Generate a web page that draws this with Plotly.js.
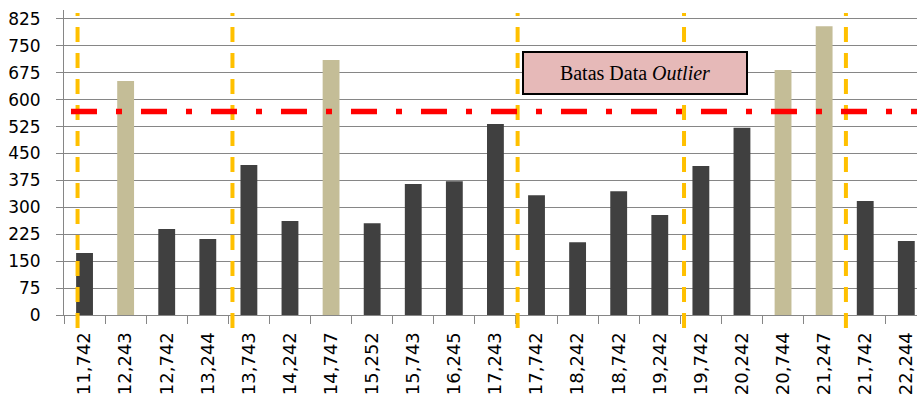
<!DOCTYPE html>
<html>
<head>
<meta charset="utf-8">
<script src="https://cdn.plot.ly/plotly-3.0.1.min.js"></script>
<style>html,body{margin:0;padding:0;background:#fff;}#chart{width:917px;height:401px;}</style>
</head>
<body>
<div id="chart"></div>
<script>
// Data
var categories = ["11,742","12,243","12,742","13,244","13,743","14,242","14,747","15,252","15,743","16,245","17,243","17,742","18,242","18,742","19,242","19,742","20,242","20,744","21,247","21,742","22,244"];
var values = [173, 652, 240, 212, 418, 262, 711, 256, 365, 373, 532, 334, 203, 345, 279, 415, 522, 683, 805, 318, 206];
var outlierLimit = 567;
var segmentBounds = [-0.17, 3.6, 10.54, 14.59, 18.53];
var yTicks = [0, 75, 150, 225, 300, 375, 450, 525, 600, 675, 750, 825];
var boxLabel = "Batas Data <i>Outlier</i>";

var colors = values.map(function (v) { return v > outlierLimit ? "#c4bd97" : "#404040"; });

var trace = {
  type: "bar",
  x: categories,
  y: values,
  width: 0.41,
  marker: { color: colors, line: { width: 0 } },
  hoverinfo: "x+y"
};

var shapes = segmentBounds.map(function (b) {
  return {
    type: "line", xref: "x", yref: "paper",
    x0: b, x1: b, y0: -0.043, y1: 0.99,
    line: { color: "#ffc000", width: 4, dash: "15px,11px" },
    layer: "above"
  };
});
shapes.push({
  type: "line", xref: "x", yref: "y",
  x0: -0.33, x1: 21, y0: outlierLimit, y1: outlierLimit,
  line: { color: "#ff0000", width: 5.5, dash: "26px,19px,6px,19px" },
  layer: "above"
});

var layout = {
  width: 917, height: 401, autosize: false,
  margin: { l: 64, r: 0, t: 10, b: 86, pad: 0 },
  paper_bgcolor: "#ffffff", plot_bgcolor: "#ffffff",
  showlegend: false,
  font: { family: "DejaVu Sans", size: 17, color: "#000000" },
  xaxis: {
    type: "category",
    range: [-0.5, 20.26],
    tickson: "boundaries",
    ticks: "outside", ticklen: 8, tickcolor: "#868686", tickwidth: 1,
    showline: true, linecolor: "#868686", linewidth: 1,
    showgrid: false, zeroline: false,
    tickangle: -90,
    ticklabelstandoff: 9,
    tickfont: { family: "DejaVu Sans", size: 18, color: "#000000" },
    fixedrange: true
  },
  yaxis: {
    range: [0, 850],
    tickvals: yTicks,
    ticktext: yTicks.map(String),
    ticks: "outside", ticklen: 7, tickcolor: "#868686", tickwidth: 1,
    showline: true, linecolor: "#868686", linewidth: 1,
    showgrid: true, gridcolor: "#868686", gridwidth: 1,
    zeroline: false,
    ticklabelstandoff: 12,
    tickfont: { family: "DejaVu Sans", size: 17, color: "#000000" },
    fixedrange: true
  },
  shapes: shapes,
  annotations: [{
    xref: "x", yref: "y", x: 13.39, y: 675,
    text: boxLabel, showarrow: false,
    font: { family: "Liberation Serif", size: 20, color: "#000000" },
    bgcolor: "#e6b9b8", bordercolor: "#000000", borderwidth: 2, borderpad: 0,
    width: 222, height: 40, align: "center", valign: "middle"
  }]
};

Plotly.newPlot("chart", [trace], layout, { displayModeBar: false, staticPlot: true });
</script>
</body>
</html>
